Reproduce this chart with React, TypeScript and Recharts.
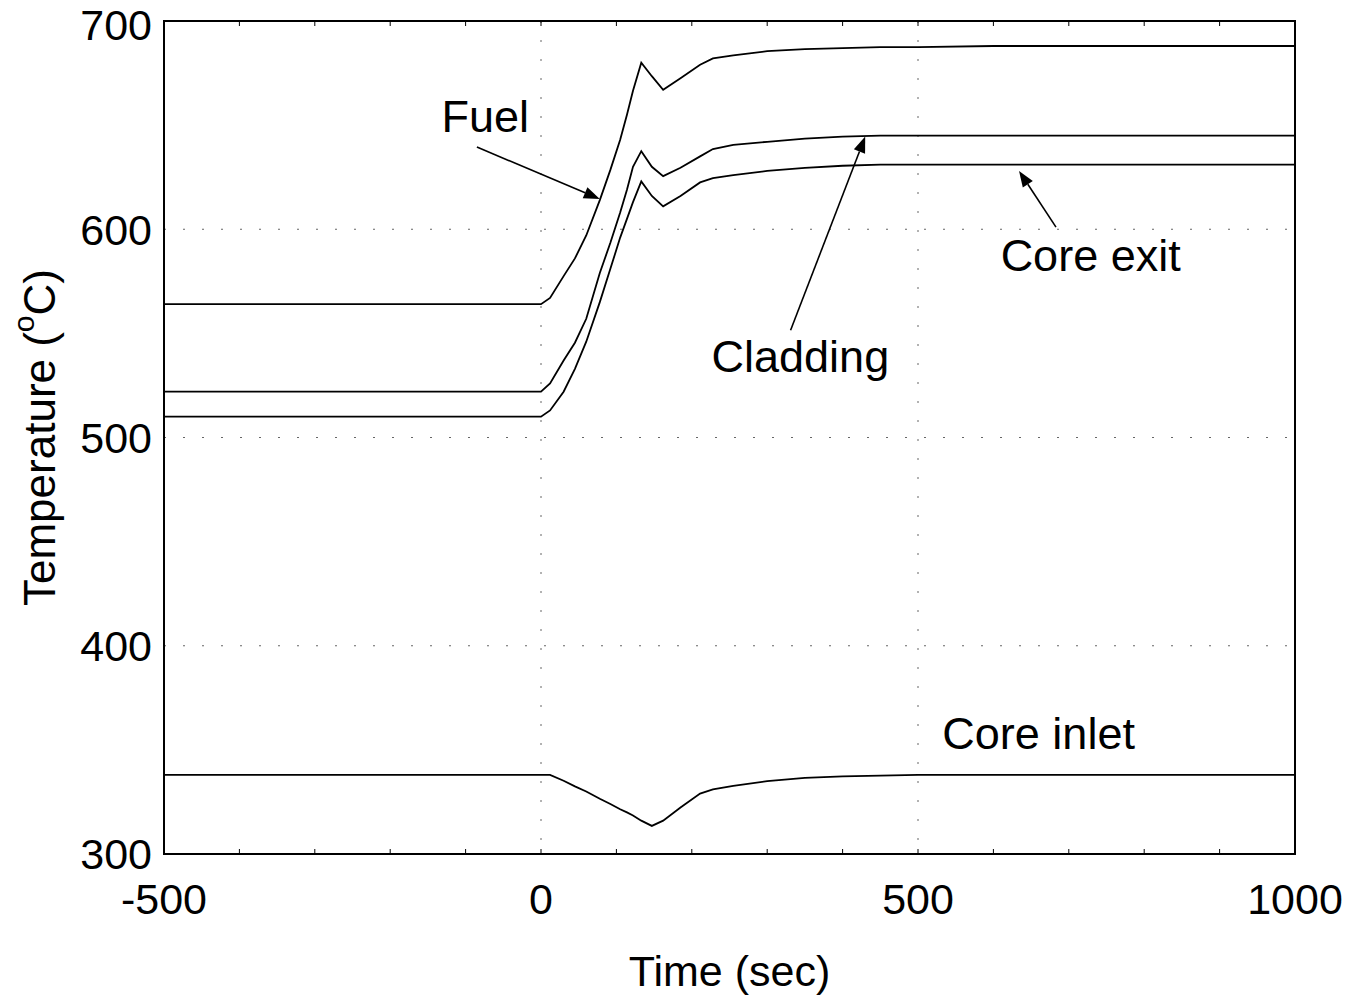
import React from 'react'
import {
  LineChart, Line, XAxis, YAxis, CartesianGrid, ReferenceLine, ReferenceDot, ReferenceArea,
} from 'recharts'

// time axis (sec) shared by all four curves
const times = [-500, 0, 12, 30, 45, 60, 78, 92, 105, 114, 122, 133, 147, 162, 185, 211, 228, 255, 300, 350, 400, 450, 500, 600, 800, 1000]

const fuel = [564, 564, 567, 577.5, 586, 597, 614, 628.5, 643, 655, 666.5, 680, 673.5, 667, 672.5, 679, 682, 683.5, 685.5, 686.5, 687, 687.5, 687.5, 688, 688, 688]
const cladding = [522, 522, 526, 537, 545.5, 557, 579, 593.5, 608, 619, 630, 637.5, 630, 625.5, 629.5, 635, 638.5, 640.5, 642, 643.5, 644.5, 645, 645, 645, 645, 645]
const coreExit = [510, 510, 513, 522, 533, 546, 565, 581, 596, 605, 613, 623, 616, 611, 616, 622.5, 624.5, 626, 628, 629.5, 630.5, 631, 631, 631, 631, 631]
const coreInlet = [338, 338, 338, 335.2, 332.5, 330, 326.5, 324, 321.5, 320, 318.5, 316, 313.5, 316, 322.3, 329, 331, 332.7, 335, 336.6, 337.3, 337.6, 338, 338, 338, 338]

const xTicks = [-500, 0, 500, 1000]
const yTicks = [300, 400, 500, 600, 700]
const xMinor = [-500, -400, -300, -200, -100, 0, 100, 200, 300, 400, 500, 600, 700, 800, 900, 1000]
const yMinor = [300, 320, 340, 360, 380, 400, 420, 440, 460, 480, 500, 520, 540, 560, 580, 600, 620, 640, 660, 680, 700]

// annotation labels: [text, time, temp]
const labels: [string, number, number][] = [
  ['Fuel', -74, 654],
  ['Cladding', 344, 539],
  ['Core exit', 729, 587.5],
  ['Core inlet', 660, 358],
]
// arrows: [fromTime, fromTemp, toTime, toTemp]
const arrows: [number, number, number, number][] = [
  [-85, 639.5, 78, 614.5],
  [331, 551.5, 430, 644.5],
  [683, 601, 634, 628],
]

const data = times.map((t, i) => ({
  t,
  fuel: fuel[i],
  cladding: cladding[i],
  coreExit: coreExit[i],
  coreInlet: coreInlet[i],
}))

const FONT = '"Liberation Sans", Arial, Helvetica, sans-serif'

const Arrow = (props: any) => {
  const { x1, y1, x2, y2 } = props
  if ([x1, y1, x2, y2].some((v) => v == null || isNaN(v))) return <g />
  const a = Math.atan2(y2 - y1, x2 - x1)
  const len = 16
  const w = 6
  const bx = x2 - len * Math.cos(a)
  const by = y2 - len * Math.sin(a)
  const px = -Math.sin(a) * w
  const py = Math.cos(a) * w
  return (
    <g>
      <line x1={x1} y1={y1} x2={bx} y2={by} stroke="#000" strokeWidth={1.6} />
      <polygon points={`${x2},${y2} ${bx + px},${by + py} ${bx - px},${by - py}`} fill="#000" />
    </g>
  )
}

const noTick = () => <g />

export default function App() {
  return (
    <div style={{ position: 'absolute', left: 0, top: 0, background: '#fff' }}>
      <LineChart width={1346} height={997} data={data} margin={{ top: 21, right: 51, bottom: 0, left: 0 }}>
        <CartesianGrid stroke="#666" strokeDasharray="2 17" />
        <XAxis
          xAxisId="minorB" dataKey="t" type="number" domain={[-500, 1000]} ticks={xMinor}
          height={1} mirror axisLine={false} tickSize={5} tick={noTick} stroke="#000"
        />
        <XAxis
          dataKey="t" type="number" domain={[-500, 1000]} ticks={xTicks} height={143}
          axisLine={false} tickLine={false} tickSize={0} tickMargin={29}
          tick={{ fill: '#000', fontSize: 43, fontFamily: FONT }}
          label={({ viewBox }: any) => (
            <text x={viewBox.x + viewBox.width / 2} y={viewBox.y + 117} textAnchor="middle"
              dominantBaseline="central" fontSize={43} fontFamily={FONT} fill="#000">Time (sec)</text>
          )}
        />
        <XAxis
          xAxisId="top" orientation="top" dataKey="t" type="number" domain={[-500, 1000]} ticks={xMinor}
          height={1} mirror tickSize={5} tick={noTick} axisLine={false} stroke="#000"
        />
        <YAxis
          yAxisId="minorL" type="number" domain={[300, 700]} ticks={yMinor}
          width={1} mirror axisLine={false} tickSize={5} tick={noTick} stroke="#000"
        />
        <YAxis
          type="number" domain={[300, 700]} ticks={yTicks} width={164}
          axisLine={false} tickLine={false} tickSize={0} tickMargin={12}
          tick={{ fill: '#000', fontSize: 43, fontFamily: FONT }}
          label={({ viewBox }: any) => {
            const cx = 39
            const cy = viewBox.y + viewBox.height / 2
            return (
              <text x={cx} y={cy} transform={`rotate(-90 ${cx} ${cy})`} textAnchor="middle"
                dominantBaseline="central" fontSize={44} fontFamily={FONT} fill="#000">
                Temperature (<tspan fontSize={30} dy={-16}>o</tspan><tspan dy={16}>C)</tspan>
              </text>
            )
          }}
        />
        <YAxis
          yAxisId="right" orientation="right" type="number" domain={[300, 700]} ticks={yMinor}
          width={1} mirror tickSize={5} tick={noTick} axisLine={false} stroke="#000"
        />
        <ReferenceArea x1={-500} x2={1000} y1={300} y2={700} fill="none" stroke="#000" strokeWidth={2} ifOverflow="visible" />
        <Line dataKey="fuel" type="linear" stroke="#000" strokeWidth={1.8} dot={false} isAnimationActive={false} />
        <Line dataKey="cladding" type="linear" stroke="#000" strokeWidth={1.8} dot={false} isAnimationActive={false} />
        <Line dataKey="coreExit" type="linear" stroke="#000" strokeWidth={1.8} dot={false} isAnimationActive={false} />
        <Line dataKey="coreInlet" type="linear" stroke="#000" strokeWidth={1.8} dot={false} isAnimationActive={false} />
        {arrows.map(([x1, y1, x2, y2], i) => (
          <ReferenceLine key={'a' + i} segment={[{ x: x1, y: y1 }, { x: x2, y: y2 }]} shape={Arrow} ifOverflow="visible" />
        ))}
        {labels.map(([txt, x, y]) => (
          <ReferenceDot
            key={txt} x={x} y={y} r={0} ifOverflow="visible"
            shape={(p: any) => (
              <text x={p.cx} y={p.cy} textAnchor="middle" dominantBaseline="central"
                fontSize={45} fontFamily={FONT} fill="#000">{txt}</text>
            )}
          />
        ))}
      </LineChart>
    </div>
  )
}
